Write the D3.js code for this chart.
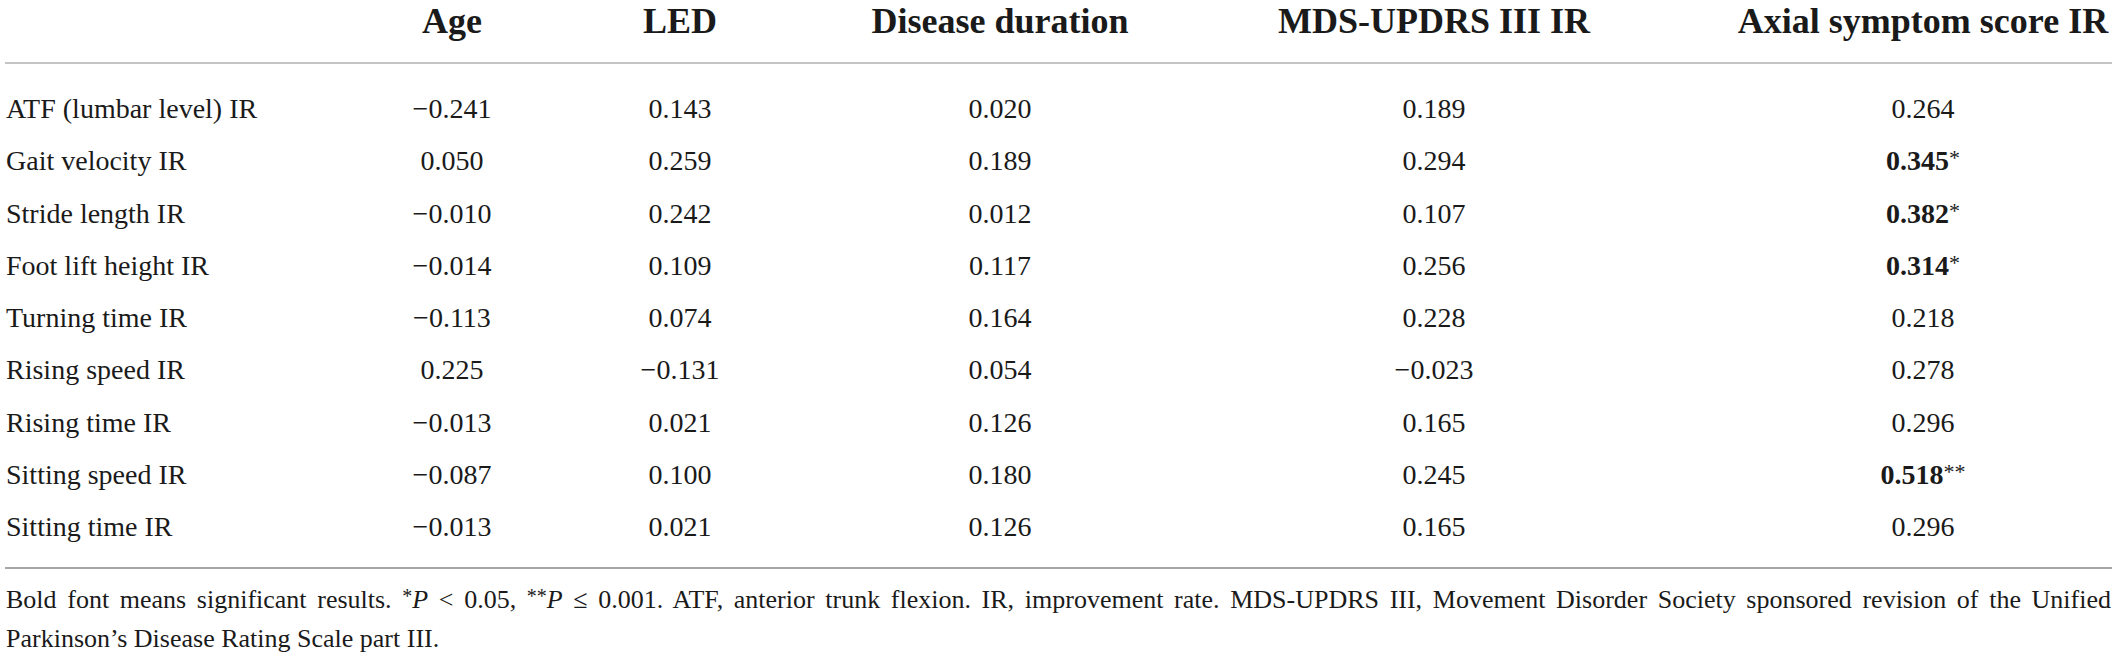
<!DOCTYPE html>
<html>
<head>
<meta charset="utf-8">
<script src="https://cdn.jsdelivr.net/npm/d3@7"></script>
<style>
  body { margin: 0; background: #fff; }
  text { font-family: "Liberation Serif", "Times New Roman", serif; fill: #1a1a1a; }
</style>
</head>
<body>
<div id="chart"></div>
<script>
// Table data
var columns = ['Age', 'LED', 'Disease duration', 'MDS-UPDRS III IR', 'Axial symptom score IR'];
var row_labels = ['ATF (lumbar level) IR', 'Gait velocity IR', 'Stride length IR', 'Foot lift height IR',
    'Turning time IR', 'Rising speed IR', 'Rising time IR', 'Sitting speed IR', 'Sitting time IR'];
var age_vals = [-0.241, 0.050, -0.010, -0.014, -0.113, 0.225, -0.013, -0.087, -0.013];
var led_vals = [0.143, 0.259, 0.242, 0.109, 0.074, -0.131, 0.021, 0.100, 0.021];
var duration_vals = [0.020, 0.189, 0.012, 0.117, 0.164, 0.054, 0.126, 0.180, 0.126];
var mds_vals = [0.189, 0.294, 0.107, 0.256, 0.228, -0.023, 0.165, 0.245, 0.165];
var axial_vals = [0.264, 0.345, 0.382, 0.314, 0.218, 0.278, 0.296, 0.518, 0.296];
var axial_sig = ['', '*', '*', '*', '', '', '', '**', ''];

var series = [age_vals, led_vals, duration_vals, mds_vals, axial_vals];
var sig = [null, null, null, null, axial_sig];

// SVG Element
var chart_width = 2117;
var chart_height = 659;
var svg = d3.select('#chart')
    .append('svg')
    .attr('width', chart_width)
    .attr('height', chart_height);

// scales
var x_scale = d3.scaleOrdinal()
    .domain(columns)
    .range([452, 680, 1000, 1434, 1923]);

var y_scale = d3.scalePoint()
    .domain(row_labels)
    .range([118, 536]);

var fmt = function (v) {
    var s = Math.abs(v).toFixed(3);
    return v < 0 ? '\u2212' + s : s;
};

// header
svg.selectAll('text.head')
    .data(columns)
    .enter()
    .append('text')
    .attr('class', 'head')
    .attr('x', function (d) { return x_scale(d); })
    .attr('y', 33)
    .attr('text-anchor', 'middle')
    .attr('font-size', 36)
    .attr('font-weight', 'bold')
    .text(function (d) { return d; });

// rules
svg.append('line')
    .attr('x1', 5).attr('x2', 2112)
    .attr('y1', 63).attr('y2', 63)
    .attr('stroke', '#c4c4c4')
    .attr('stroke-width', 2);

svg.append('line')
    .attr('x1', 5).attr('x2', 2112)
    .attr('y1', 568).attr('y2', 568)
    .attr('stroke', '#a6a6a6')
    .attr('stroke-width', 2);

// row labels
svg.selectAll('text.rowlab')
    .data(row_labels)
    .enter()
    .append('text')
    .attr('class', 'rowlab')
    .attr('x', 6)
    .attr('y', function (d) { return y_scale(d); })
    .attr('font-size', 28)
    .text(function (d) { return d; });

// cells
columns.forEach(function (col, ci) {
    var g = svg.append('g');
    var cells = g.selectAll('text')
        .data(series[ci])
        .enter()
        .append('text')
        .attr('x', x_scale(col))
        .attr('y', function (d, i) { return y_scale(row_labels[i]); })
        .attr('text-anchor', 'middle')
        .attr('font-size', 28);

    cells.append('tspan')
        .attr('font-weight', function (d, i) { return sig[ci] && sig[ci][i] ? 'bold' : null; })
        .text(function (d) { return fmt(d); });

    cells.filter(function (d, i) { return sig[ci] && sig[ci][i]; })
        .append('tspan')
        .attr('font-size', 22)
        .attr('dy', -5)
        .text(function (d) { return sig[ci][series[ci].indexOf(d)]; });
});

// footnote
var note1 = [
    { t: 'Bold font means significant results. ' },
    { t: '*', sup: true },
    { t: 'P', it: true },
    { t: ' < 0.05, ' },
    { t: '**', sup: true },
    { t: 'P', it: true },
    { t: ' \u2264 0.001. ATF, anterior trunk flexion. IR, improvement rate. MDS-UPDRS III, Movement Disorder Society sponsored revision of the Unified' }
];
var note2 = 'Parkinson\u2019s Disease Rating Scale part III.';

var n1 = svg.append('text')
    .attr('x', 6)
    .attr('y', 608)
    .attr('font-size', 26);

n1.selectAll('tspan')
    .data(note1)
    .enter()
    .append('tspan')
    .attr('font-style', function (d) { return d.it ? 'italic' : null; })
    .attr('font-size', function (d) { return d.sup ? 20 : null; })
    .attr('dy', function (d, i) {
        if (d.sup) return -5;
        if (i > 0 && note1[i - 1].sup) return 5;
        return null;
    })
    .text(function (d) { return d.t; });

// justify first footnote line
var natural = n1.node().getComputedTextLength();
var n_spaces = note1.map(function (d) { return d.t; }).join('').split(' ').length - 1;
n1.attr('word-spacing', (2111 - 6 - natural) / n_spaces);

svg.append('text')
    .attr('x', 6)
    .attr('y', 647)
    .attr('font-size', 26)
    .text(note2);
</script>
</body>
</html>
